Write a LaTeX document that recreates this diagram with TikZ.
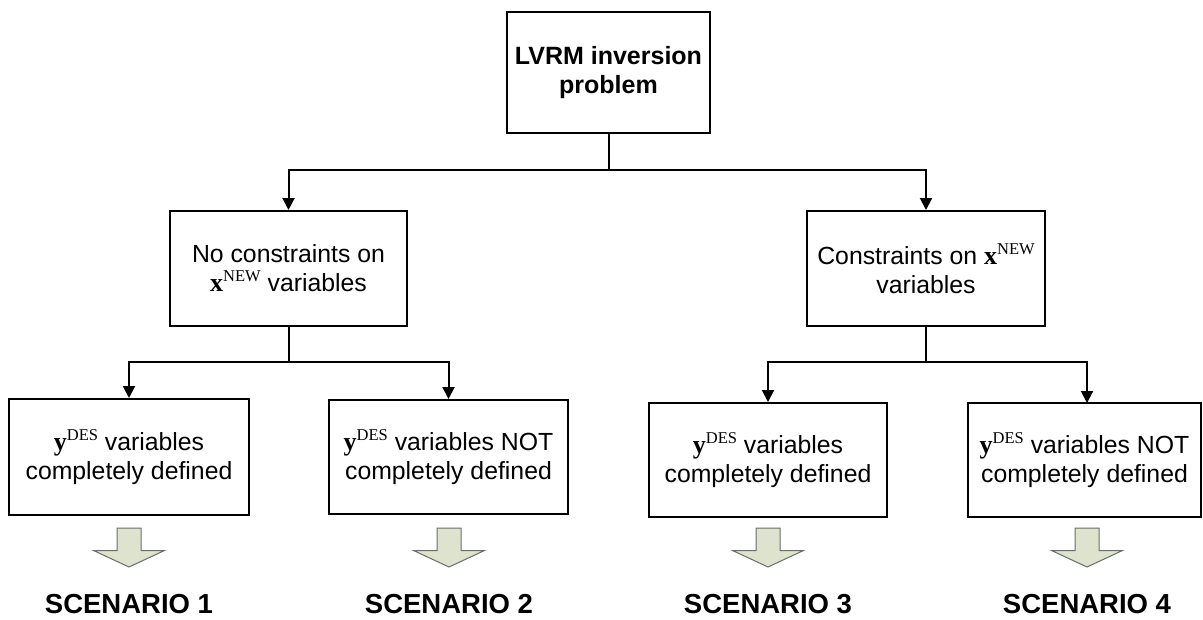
\documentclass[tikz,border=0pt]{standalone}
\usepackage{fontspec}
\setmainfont{Liberation Sans}
\newfontfamily\tnr{Liberation Serif}
\usetikzlibrary{arrows.meta}

% bold serif variable with a serif superscript
\newcommand{\varsup}[2]{{\tnr\bfseries\fontsize{26}{29}\selectfont #1}\raisebox{10pt}{\fontsize{16.5}{16.5}\selectfont\tnr #2}}

\tikzset{
  box/.style={draw=black, line width=2pt, fill=white, inner sep=0pt,
    align=center, font=\fontsize{24.8}{29}\selectfont},
  link/.style={line width=2pt, -{Triangle[width=12pt,length=12pt]}},
  trunk/.style={line width=2pt},
  blockarrow/.style={draw=gray!85!black, line width=1pt, fill=arrowfill, line join=miter},
  scen/.style={font=\fontsize{27.5}{30}\selectfont\bfseries, inner sep=0pt, anchor=base}
}
\definecolor{arrowfill}{HTML}{DDE3CC}

\begin{document}
\begin{tikzpicture}[x=1pt, y=-1pt]
\useasboundingbox (0,0) rectangle (1203,619);

% top level
\node[box, minimum width=203pt, minimum height=121pt,
      font=\fontsize{25}{29}\selectfont\bfseries] (top) at (608.5,72.5)
  {LVRM inversion\\problem};

% second level
\node[box, minimum width=237pt, minimum height=115pt] (free) at (288.5,268.5)
  {No constraints on\\\varsup{x}{NEW} variables};
\node[box, minimum width=238pt, minimum height=115pt] (cons) at (926,268.5)
  {Constraints on \varsup{x}{NEW}\\variables};

% third level
\node[box, minimum width=240pt, minimum height=116pt] (s1) at (129,457)
  {\varsup{y}{DES} variables\\completely defined};
\node[box, minimum width=239pt, minimum height=114pt] (s2) at (448.5,457)
  {\varsup{y}{DES} variables NOT\\completely defined};
\node[box, minimum width=238pt, minimum height=114pt] (s3) at (768,460)
  {\varsup{y}{DES} variables\\completely defined};
\node[box, minimum width=233pt, minimum height=114pt] (s4) at (1084.5,460)
  {\varsup{y}{DES} variables NOT\\completely defined};

% branching connectors
\coordinate (j0) at (top.south |- 0,169.5);
\draw[trunk] (top.south) -- (j0);
\draw[link] (j0) -| (free.north);
\draw[link] (j0) -| (cons.north);

\coordinate (j1) at (free.south |- 0,362);
\draw[trunk] (free.south) -- (j1);
\draw[link] (j1) -| (s1.north);
\draw[link] (j1) -| (s2.north);

\coordinate (j2) at (cons.south |- 0,362);
\draw[trunk] (cons.south) -- (j2);
\draw[link] (j2) -| (s3.north);
\draw[link] (j2) -| (1087,403);

% block arrows and scenario labels
\foreach \cx/\n in {129/1, 449/2, 768/3, 1087/4} {
  \draw[blockarrow] (\cx-12,528) -- (\cx+12,528) -- (\cx+12,550.5)
    -- (\cx+35.5,550.5) -- (\cx,567) -- (\cx-35.5,550.5) -- (\cx-12,550.5) -- cycle;
  \node[scen] (lab\n) at (\cx,613) {SCENARIO \n};
}
\end{tikzpicture}
\end{document}
